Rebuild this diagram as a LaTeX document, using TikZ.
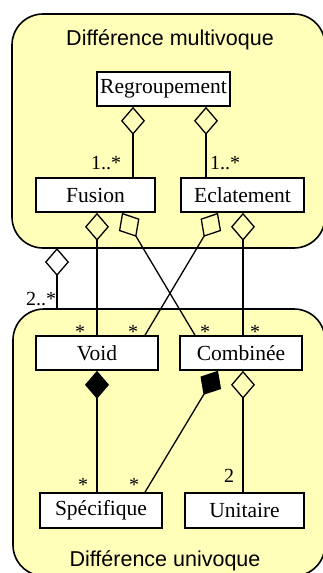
\documentclass[tikz,border=0pt]{standalone}
\usepackage{fontspec}
\setmainfont{Liberation Serif}
\newfontfamily\titlefont{Liberation Sans}
\usetikzlibrary{arrows.meta,positioning,calc}
\definecolor{pkgyellow}{RGB}{255,255,185}

\tikzset{
  pkg/.style={draw, line width=1.6pt, fill=pkgyellow, rounded corners=31pt},
  umlclass/.style={draw, line width=1.6pt, fill=white, minimum height=34pt,
    inner sep=0pt, font=\fontsize{21.5}{25}\selectfont},
  pkgtitle/.style={font=\titlefont\fontsize{21.5}{25}\selectfont},
  mult/.style={font=\fontsize{20}{23}\selectfont, inner sep=0pt},
  agg/.style={line width=1.3pt, {Diamond[open,length=28pt,width=24pt,line width=1.3pt]}-},
  comp/.style={line width=1.3pt, {Diamond[length=28pt,width=24pt]}-}
}

\begin{document}
\begin{tikzpicture}[x=1pt,y=-1pt]
    \useasboundingbox (0,0) rectangle (323,573);
    \clip (0,0) rectangle (323,573);

    % Packages
    \draw[pkg] (12,14) rectangle (325,248);
    \draw[pkg] (13,309) rectangle (325,576);
    \coordinate (multibottom) at (57,248);
    \coordinate (unitop) at (57,309);
    \node[pkgtitle] (multititle) at (170,40) {Différence multivoque};
    \node[pkgtitle] (unititle) at (165,561) {Différence univoque};

    % Classes
    \node[umlclass, minimum width=133pt] (regroup) at (163.5,89) {Regroupement};
    \node[umlclass, minimum width=119pt] (fusion) at (95.5,195) {Fusion};
    \node[umlclass, minimum width=123pt] (eclat) at (242.5,195) {Eclatement};
    \node[umlclass, minimum width=122pt] (void) at (97,353) {Void};
    \node[umlclass, minimum width=122pt] (comb) at (241,353) {Combinée};
    \node[umlclass, minimum width=122pt, minimum height=35pt] (spec) at (101,510.5) {Spécifique};
    \node[umlclass, minimum width=119pt, minimum height=35pt] (unit) at (244.5,510.5) {Unitaire};

    % Connectors
    \draw[agg] (133,0 |- regroup.south) -- (133,0 |- fusion.north);
    \draw[agg] (206,0 |- regroup.south) -- (206,0 |- eclat.north);
    \draw[agg] (97,0 |- fusion.south) -- (97,0 |- void.north);
    \draw[agg] (122,0 |- fusion.south) -- (195,0 |- comb.north);
    \draw[agg] (218,0 |- eclat.south) -- (145,0 |- void.north);
    \draw[agg] (243,0 |- eclat.south) -- (243,0 |- comb.north);
    \draw[agg] (multibottom) -- (unitop);
    \draw[comp] (97,0 |- void.south) -- (97,0 |- spec.north);
    \draw[comp] (218,0 |- comb.south) -- (145,0 |- spec.north);
    \draw[agg] (243,0 |- comb.south) -- (243,0 |- unit.north);

    % Multiplicities
    \node[mult] (m1) at (106,163) {1..*};
    \node[mult] (m2) at (225,163) {1..*};
    \node[mult] (m3) at (41,299) {2..*};
    \node[mult] (s1) at (80,332) {*};
    \node[mult] (s2) at (133,332) {*};
    \node[mult] (s3) at (205,332) {*};
    \node[mult] (s4) at (255,332) {*};
    \node[mult] (s5) at (83,485) {*};
    \node[mult] (s6) at (134,485) {*};
    \node[mult] (m4) at (229,476) {2};
\end{tikzpicture}
\end{document}
